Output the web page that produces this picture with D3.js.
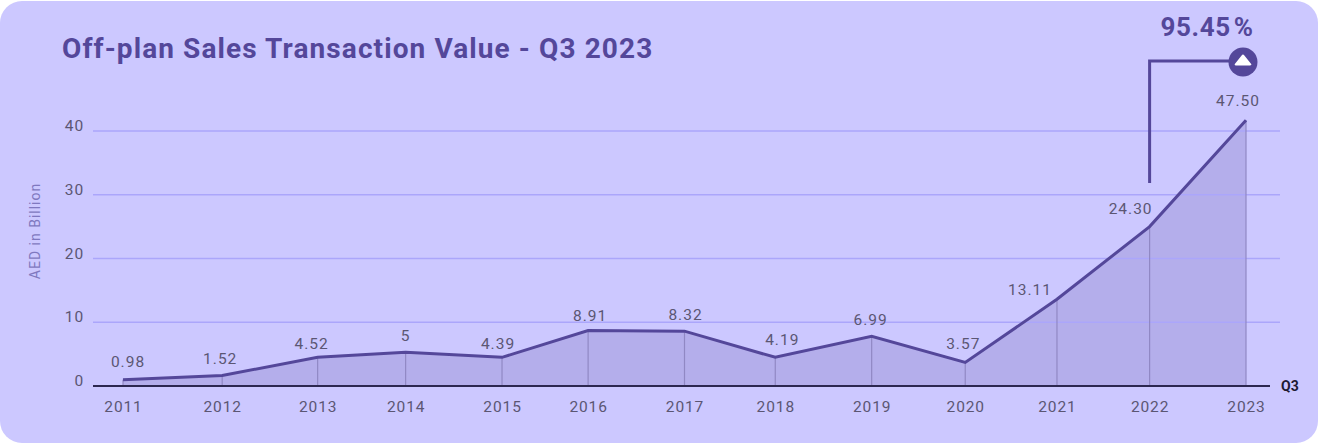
<!DOCTYPE html>
<html>
<head>
<meta charset="utf-8">
<script src="https://cdn.jsdelivr.net/npm/d3@7"></script>
<style>
    html, body { margin: 0; padding: 0; background: #fff; }
    svg { display: block; }
    text { font-family: Roboto, sans-serif; }
    .axis .domain { display: none; }
    .axis text { fill: #5b5673; font-size: 15.5px; letter-spacing: 0.9px; }
    .grid line { stroke: #aba6fb; stroke-width: 1.3; }
    .val { fill: #5b5673; font-size: 15.5px; letter-spacing: 1px; text-anchor: middle; }
</style>
</head>
<body>
<div id="chart"></div>
<script>
var years = ["2011","2012","2013","2014","2015","2016","2017","2018","2019","2020","2021","2022","2023"];
// where each year sits on the time axis (not quite evenly spaced)
var yearTimes = [2011, 2012.06, 2013.08, 2014.02, 2015.05, 2015.97, 2017, 2017.97, 2019, 2020, 2020.98, 2021.97, 2023];
// height of the line as drawn in the picture
var values = [0.98, 1.65, 4.5, 5.3, 4.5, 8.7, 8.6, 4.5, 7.8, 3.7, 13.6, 25, 41.7];
// printed labels, these do not always agree with the drawn height
var valueLabels = ["0.98","1.52","4.52","5","4.39","8.91","8.32","4.19","6.99","3.57","13.11","24.30","47.50"];
var yTicks = [0, 10, 20, 30, 40];
var changeLabel = "95.45 %";

var margin = {left: 123, right: 74, top: 131, bottom: 57};
var width = 1320, height = 443;

var svg = d3.select("#chart").append("svg")
    .attr("width", width)
    .attr("height", height);

svg.append("rect")
    .attr("x", 0).attr("y", 1)
    .attr("width", 1318).attr("height", 442)
    .attr("rx", 22)
    .attr("fill", "#ccc8ff");

var x = d3.scaleLinear().domain([2011, 2023]).range([margin.left, width - margin.right]);
var y = d3.scaleLinear().domain([0, 40]).range([height - margin.bottom, margin.top]);

svg.append("text")
    .attr("x", 62).attr("y", 58)
    .attr("font-size", 28).attr("font-weight", 700)
    .attr("letter-spacing", 1.1)
    .attr("fill", "#54479a")
    .text("Off-plan Sales Transaction Value - Q3 2023");

// y labels
var yAxis = d3.axisLeft(y).tickValues(yTicks).tickSize(0).tickPadding(9);
var gy = svg.append("g").attr("class", "axis")
    .attr("transform", "translate(93,0)")
    .call(yAxis);
gy.selectAll("text").attr("dy", "-0.02em");

svg.append("text")
    .attr("transform", "translate(40,231) rotate(-90)")
    .attr("text-anchor", "middle")
    .attr("font-size", 14)
    .attr("letter-spacing", 1)
    .attr("fill", "#7f78c0")
    .text("AED in Billion");

var rows = years.map(function(d, i){
    return {year: d, t: yearTimes[i], v: values[i], label: valueLabels[i]};
});

var area = d3.area()
    .x(function(d){ return x(d.t); })
    .y0(y(0))
    .y1(function(d){ return y(d.v); });

var line = d3.line()
    .x(function(d){ return x(d.t); })
    .y(function(d){ return y(d.v); });

svg.append("path")
    .attr("d", area(rows))
    .attr("fill", "#54479a")
    .attr("fill-opacity", 0.2);

// grid sits on top of the area
svg.append("g").attr("class", "grid")
    .selectAll("line")
    .data(yTicks.filter(function(d){ return d > 0; }))
    .enter().append("line")
    .attr("x1", 93).attr("x2", 1280)
    .attr("y1", function(d){ return y(d); })
    .attr("y2", function(d){ return y(d); });

svg.selectAll(".drop")
    .data(rows)
    .enter().append("line")
    .attr("class", "drop")
    .attr("x1", function(d){ return x(d.t); })
    .attr("x2", function(d){ return x(d.t); })
    .attr("y1", function(d){ return y(d.v); })
    .attr("y2", y(0))
    .attr("stroke", "#9088c4")
    .attr("stroke-width", 1.2);

svg.append("path")
    .attr("d", line(rows))
    .attr("fill", "none")
    .attr("stroke", "#54479a")
    .attr("stroke-width", 3);

// baseline and x labels
svg.append("line")
    .attr("x1", 93).attr("x2", 1270)
    .attr("y1", y(0)).attr("y2", y(0))
    .attr("stroke", "#2c2750")
    .attr("stroke-width", 2);

var xAxis = d3.axisBottom(x)
    .tickValues(yearTimes)
    .tickSize(0)
    .tickPadding(15)
    .tickFormat(function(d, i){ return years[i]; });

svg.append("g").attr("class", "axis")
    .attr("transform", "translate(0," + y(0) + ")")
    .call(xAxis);

svg.append("text")
    .attr("x", 1281).attr("y", y(0) + 5)
    .attr("font-size", 14).attr("font-weight", 700)
    .attr("fill", "#1d1a33")
    .text("Q3");

// value labels, nudged off the line the way the original has them
var nudgeX = [5, -2, -6, 0, -4, 2, 1, 7, -1, -2, -27, -19, -8];
var nudgeY = [-13, -11, -8, -11, -8, -10, -11, -12, -11, -13, -4, -13, -14];

svg.selectAll(".val")
    .data(rows)
    .enter().append("text")
    .attr("class", "val")
    .attr("x", function(d, i){ return x(d.t) + nudgeX[i]; })
    .attr("y", function(d, i){ return y(d.v) + nudgeY[i]; })
    .text(function(d){ return d.label; });

// change callout
var calloutX = x(yearTimes[11]);
var badgeX = x(2023) - 3;
var badgeY = 62;

svg.append("path")
    .attr("d", "M" + calloutX + ",183V61H" + badgeX)
    .attr("fill", "none")
    .attr("stroke", "#54479a")
    .attr("stroke-width", 3);

svg.append("circle")
    .attr("cx", badgeX).attr("cy", badgeY).attr("r", 14.5)
    .attr("fill", "#54479a");

svg.append("path")
    .attr("d", d3.symbol().type(d3.symbolTriangle).size(70)())
    .attr("transform", "translate(" + badgeX + "," + (badgeY - 0.5) + ") scale(1.1,0.8)")
    .attr("fill", "#fff")
    .attr("stroke", "#fff")
    .attr("stroke-width", 2.5)
    .attr("stroke-linejoin", "round");

svg.append("text")
    .attr("x", 1207).attr("y", 36)
    .attr("text-anchor", "middle")
    .attr("font-size", 26).attr("font-weight", 700)
    .attr("letter-spacing", 0.6)
    .attr("word-spacing", -4)
    .attr("fill", "#54479a")
    .text(changeLabel);
</script>
</body>
</html>
